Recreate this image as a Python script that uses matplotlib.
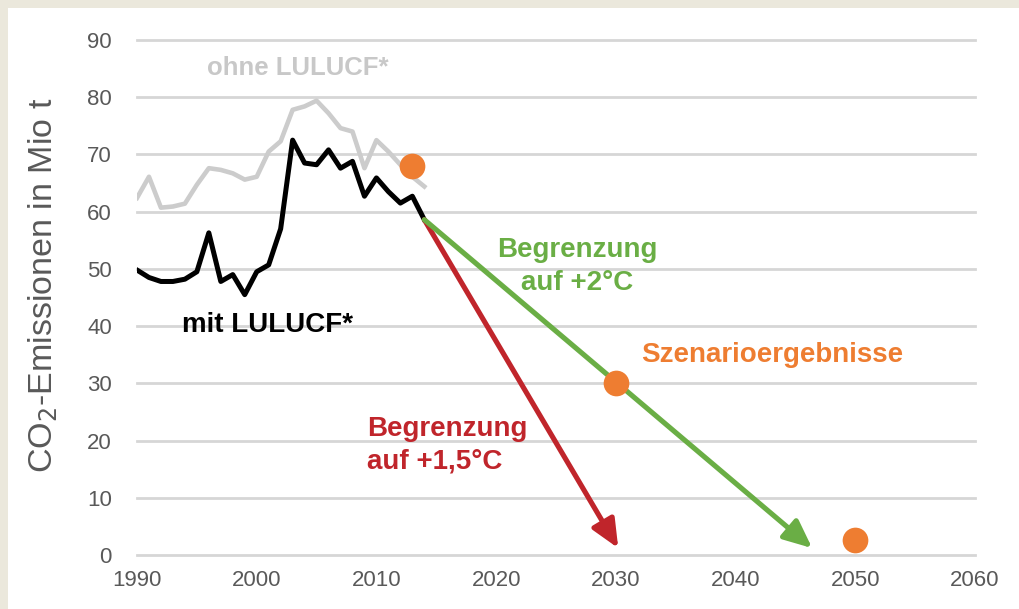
import numpy as np
import matplotlib.pyplot as plt
from matplotlib.patches import Rectangle

plt.rcParams['font.family'] = ['Liberation Sans', 'DejaVu Sans']

# data
years = list(range(1990, 2015))
mit_lulucf = [49.8, 48.5, 47.8, 47.8, 48.2, 49.5, 56.3, 47.8, 49.0, 45.5, 49.5, 50.7, 57.0,
              72.5, 68.5, 68.2, 70.8, 67.6, 68.8, 62.7, 65.9, 63.5, 61.5, 62.7, 58.6]
ohne_lulucf = [62.4, 66.1, 60.7, 60.9, 61.4, 64.7, 67.6, 67.3, 66.7, 65.6, 66.1, 70.5, 72.3,
               77.8, 78.4, 79.4, 77.2, 74.6, 74.0, 67.6, 72.5, 70.5, 68.2, 66.1, 64.4]
szenario_years = [2013, 2030, 2050]
szenario_values = [68, 30, 2.7]
arrow_start = (2014, 58.6)
arrow_15_end = (2030.2, 1.2)
arrow_2_end = (2046.4, 1.2)

fontsize = 16
tick_color = '#595959'
green = '#6aae45'
red = '#c0252b'
orange = '#ee7d31'

fig = plt.figure(figsize=(10.19, 6.09), dpi=100)
fig.patch.set_facecolor('#ebe8dc')
fig.patches.append(Rectangle((8 / 1019, 0), 1, (609 - 8) / 609, transform=fig.transFigure,
                             facecolor='white', edgecolor='none', zorder=-10))

ax = fig.add_axes([137 / 1019, (609 - 555) / 609, 838 / 1019, 515 / 609])
ax.set_facecolor('none')
ax.set_xlim(1990, 2060)
ax.set_ylim(0, 90)
ax.set_xticks(range(1990, 2061, 10))
ax.set_yticks(range(0, 91, 10))
for s in ax.spines.values():
    s.set_visible(False)
ax.tick_params(length=0, labelsize=fontsize, labelcolor=tick_color)
ax.tick_params(axis='y', pad=18)
ax.tick_params(axis='x', pad=11)
ax.yaxis.grid(True, color='#d6d6d6', linewidth=2.0)
for l in ax.get_ygridlines():
    l.set_clip_on(False)
ax.set_axisbelow(True)

ax.set_ylabel('CO$_2$-Emissionen in Mio t', fontsize=24.5, color=tick_color)
ax.yaxis.set_label_coords(-0.092, 0.523)

ax.plot(years, ohne_lulucf, color='#cccccc', linewidth=3.3, solid_joinstyle='round', zorder=2)
ax.plot(years, mit_lulucf, color='black', linewidth=3.6, solid_joinstyle='round', zorder=3)

for end, col in [(arrow_15_end, red), (arrow_2_end, green)]:
    ax.annotate('', xy=end, xytext=arrow_start,
                arrowprops=dict(arrowstyle='-|>,head_length=0.85,head_width=0.38',
                                color=col, linewidth=3.7, shrinkA=0, shrinkB=0,
                                mutation_scale=20), zorder=4)

ax.plot(szenario_years, szenario_values, 'o', color=orange, markersize=18.5,
        markeredgewidth=0, zorder=5, clip_on=False)

ax.text(2003.45, 85.1, 'ohne LULUCF*', color='#c8c8c8', fontsize=18.5, fontweight='bold',
        ha='center', va='center')
ax.text(2000.9, 40.2, 'mit LULUCF*', color='black', fontsize=20, fontweight='bold',
        ha='center', va='center')
ax.text(2026.8, 50.5, 'Begrenzung\nauf +2°C', color=green, fontsize=20, fontweight='bold',
        ha='center', va='center', multialignment='center', linespacing=1.35)
ax.text(2043.1, 35.0, 'Szenarioergebnisse', color=orange, fontsize=20, fontweight='bold',
        ha='center', va='center')
ax.text(2009.2, 19.2, 'Begrenzung\nauf +1,5°C', color=red, fontsize=20, fontweight='bold',
        ha='left', va='center', linespacing=1.35)

plt.savefig('out.png', dpi=100)
